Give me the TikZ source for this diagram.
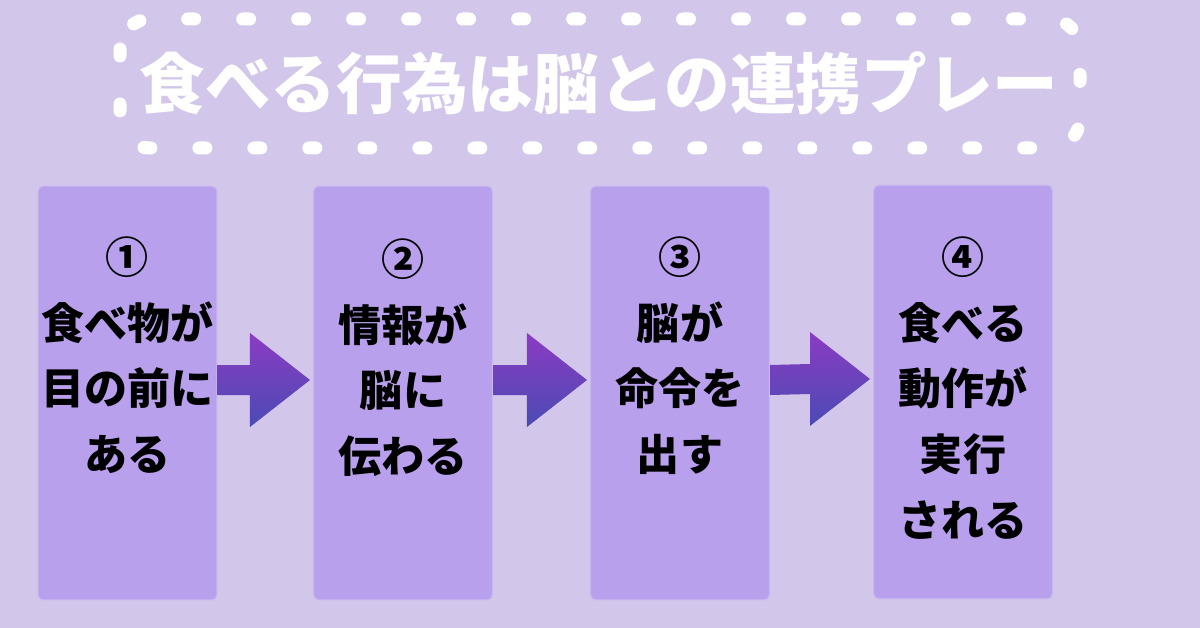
\documentclass[tikz,border=0pt]{standalone}
\usepackage{fontspec}
\newfontfamily\cjk{Noto Sans CJK JP}
\usetikzlibrary{calc}
\definecolor{bgpurple}{HTML}{D2C6EA}
\definecolor{boxpurple}{HTML}{B8A0EC}
\definecolor{boxedge}{HTML}{C9B9F1}
\definecolor{arrtop}{HTML}{8B3BC2}
\definecolor{arrbot}{HTML}{4B4BB4}
% arrow between two boxes
\newcommand{\flowarrow}[2]{%
  \shade[top color=arrtop, bottom color=arrbot]
    ($(#1.east)+(0,-28)$) -- ($(#2.west)+(-63,-28)$) -- ($(#2.west)+(-63,-60)$)
    -- ($(#2.west)+(-3,-13)$) -- ($(#2.west)+(-63,34)$) -- ($(#2.west)+(-63,2)$)
    -- ($(#1.east)+(0,2)$) -- cycle;
}

\begin{document}
\begin{tikzpicture}[x=0.02cm, y=-0.02cm,
    stepbox/.style={draw=boxedge, line width=0.6pt, fill=boxpurple, rounded corners=3pt,
      minimum width=3.58cm, minimum height=8.28cm, inner sep=0pt},
    steptext/.style={anchor=north, align=center, inner sep=0pt,
      font=\cjk\bfseries\fontsize{24.5}{37.5}\selectfont}]
  % Background
  \fill[bgpurple] (0,0) rectangle (1200,628);
  % Title
  \draw[white, line width=0.26cm, line cap=round, dash pattern=on 0.14cm off 0.96cm,
    rounded corners=0.6cm] (120,19) rectangle (1080,148);
  \node[white, font=\cjk\bfseries\fontsize{37.4}{44}\selectfont] (title) at (599,83)
    {食べる行為は脳との連携プレー};
  % Boxes
  \node[stepbox] (s1) at (127.5,393) {};
  \node[stepbox] (s2) at (403,393) {};
  \node[stepbox] (s3) at (680,393) {};
  \node[stepbox] (s4) at (963,392) {};
  % Texts
  \node[steptext] (t1) at (127.5,236) {①\\食べ物が\\目の前に\\ある};
  \node[steptext] (t2) at (403,238) {②\\情報が\\脳に\\伝わる};
  \node[steptext] (t3) at (680,236) {③\\脳が\\命令を\\出す};
  \node[steptext] (t4) at (963,236) {④\\食べる\\動作が\\実行\\される};
  % Arrows
  \flowarrow{s1}{s2}
  \flowarrow{s2}{s3}
  \flowarrow{s3}{s4}
\end{tikzpicture}
\end{document}
